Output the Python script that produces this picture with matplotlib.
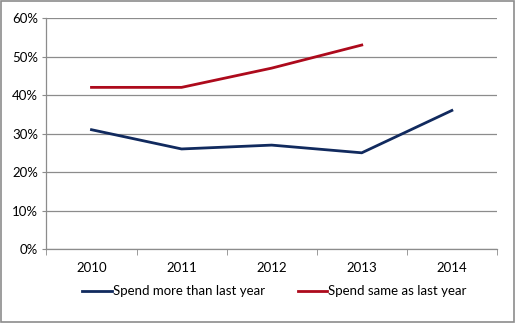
import numpy as np
import matplotlib.pyplot as plt
from matplotlib.ticker import FuncFormatter, FixedLocator

years = ['2010', '2011', '2012', '2013', '2014']
spend_more = [31, 26, 27, 25, 36]
spend_same = [42, 42, 47, 53]

blue = '#112a5e'
red = '#ad0a1c'
grid_col = '#8c8c8c'

plt.rcParams['font.family'] = 'Lato'
fontsize = 9.5

fig = plt.figure(figsize=(5.16, 3.23), dpi=100)
fig.patches.append(plt.Rectangle((0.002, 0.003), 0.995, 0.994, transform=fig.transFigure,
                                 fill=False, edgecolor='#8c8c8c', linewidth=1.2))
ax = fig.add_axes([0.090, 0.229, 0.873, 0.715])

x = np.arange(len(years))
ax.plot(x, spend_more, color=blue, linewidth=2.0, label='Spend more than last year')
ax.plot(x[:len(spend_same)], spend_same, color=red, linewidth=2.0, label='Spend same as last year')

ax.set_xlim(-0.5, len(years) - 0.5)
ax.set_ylim(0, 60)
ax.set_yticks(np.arange(0, 61, 10))
ax.yaxis.set_major_formatter(FuncFormatter(lambda v, p: '%d%%' % v))
ax.grid(axis='y', color=grid_col, linewidth=0.9)
ax.set_axisbelow(True)

# category labels between tick marks
ax.set_xticks(x)
ax.set_xticklabels(years)
ax.tick_params(axis='x', which='major', length=0, pad=9, labelsize=fontsize)
ax.xaxis.set_minor_locator(FixedLocator(np.arange(-0.5, len(years), 1)))
ax.tick_params(axis='x', which='minor', length=4, color=grid_col, direction='out')
ax.tick_params(axis='y', length=3, color=grid_col, labelsize=fontsize, pad=3)

for s in ['top', 'right']:
    ax.spines[s].set_visible(False)
for s in ['left', 'bottom']:
    ax.spines[s].set_color(grid_col)
    ax.spines[s].set_linewidth(0.9)

fig.legend(loc='center', bbox_to_anchor=(0.532, 0.098), ncol=2, frameon=False,
           fontsize=fontsize, handlelength=2.2, handletextpad=0.1, columnspacing=2.5)

fig.savefig('out.png', dpi=100)
